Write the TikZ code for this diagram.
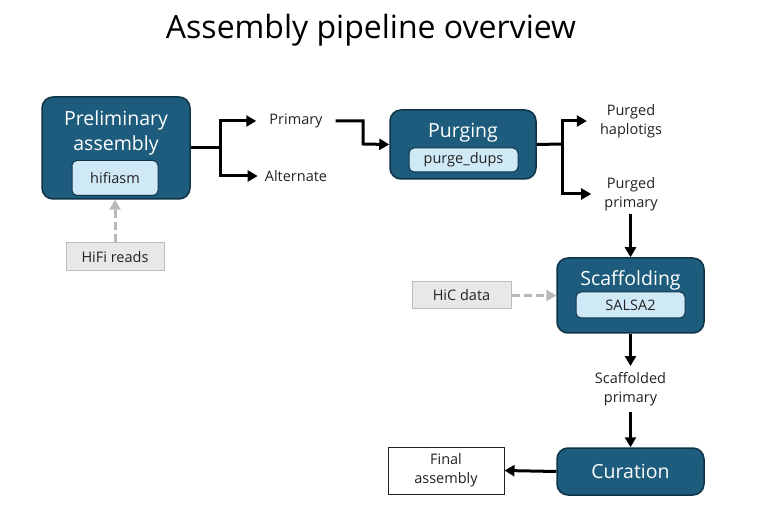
\documentclass[tikz,border=0pt]{standalone}
\usepackage{fontspec}
\setmainfont{Open Sans}
\usetikzlibrary{positioning,arrows.meta,calc}
\definecolor{stagefill}{HTML}{1D5C7C}
\definecolor{stageline}{HTML}{0F3347}
\definecolor{toolfill}{HTML}{CFE9F7}
\definecolor{inputfill}{HTML}{E8E8E8}
\definecolor{inputline}{HTML}{BDBDBD}
\definecolor{feedgray}{HTML}{B8B8B8}
\definecolor{textdark}{HTML}{222222}

\begin{document}
\begin{tikzpicture}[
  x=1pt, y=-1pt,
  >={Triangle[length=10pt,width=11pt]},
  font=\fontsize{14.5}{19}\selectfont,
  stage/.style={draw=stageline, line width=1.5pt, fill=stagefill, rounded corners=11pt, inner sep=0pt},
  stagetitle/.style={text=white, align=center, inner sep=0pt, font=\fontsize{19.5}{25}\selectfont},
  tool/.style={draw=stageline, line width=1pt, fill=toolfill, rounded corners=5pt, inner sep=0pt, text=textdark},
  inputbox/.style={draw=inputline, line width=1pt, fill=inputfill, inner sep=0pt, text=textdark},
  outtext/.style={align=center, inner sep=1pt, text=textdark},
  arrow/.style={->, line width=3pt},
  feed/.style={->, line width=3pt, draw=feedgray, dash pattern=on 8pt off 4pt}
]
\useasboundingbox (0,0) rectangle (761,505);

\node[font=\fontsize{32}{36}\selectfont] (title) at (371,30) {Assembly pipeline overview};

% preliminary assembly
\node[stage, minimum width=148pt, minimum height=102pt] (prelim) at (116,148) {};
\node[stagetitle] (prelimtitle) at (116,133) {Preliminary\\assembly};
\node[tool, minimum width=86pt, minimum height=35pt] (hifiasm) at (115,178) {hifiasm};
\node[inputbox, minimum width=98pt, minimum height=28pt] (hifi) at (115,257) {HiFi reads};
\draw[feed] (hifi.north) -- (hifi.north |- prelim.south);

\node[outtext] (primary) at (296,121) {Primary};
\node[outtext] (alternate) at (296,176) {Alternate};
\coordinate (split1) at (220,148);
\draw[line width=3pt] (prelim.east) -- (split1);
\draw[arrow, shorten >=12pt] (split1) |- (primary.west);
\draw[arrow, shorten >=6pt] (split1) |- (alternate.west);

% purging
\node[stage, minimum width=146pt, minimum height=69pt] (purging) at (463,144.5) {};
\node[stagetitle] (purgingtitle) at (463,133) {Purging};
\node[tool, minimum width=109pt, minimum height=24pt] (purgedups) at (463.5,160) {purge\_dups};
\coordinate (jog) at (363,144);
\draw[arrow, shorten <=12pt] (primary.east) -| (jog) -- (purging.west);

\node[outtext] (haplotigs) at (631,121) {Purged\\haplotigs};
\node[outtext] (purgedprim) at (631,194) {Purged\\primary};
\coordinate (split2) at (562,144);
\draw[line width=3pt] (purging.east) -- (split2);
\draw[arrow, shorten >=12pt] (split2) |- (haplotigs.west);
\draw[arrow, shorten >=12pt] (split2) |- (purgedprim.west);

% scaffolding
\node[stage, minimum width=147pt, minimum height=75pt] (scaffold) at (630.5,295.5) {};
\node[stagetitle] (scaffoldtitle) at (630.5,280) {Scaffolding};
\node[tool, minimum width=109pt, minimum height=26pt] (salsa) at (630.5,305) {SALSA2};
\node[inputbox, minimum width=99pt, minimum height=27pt] (hic) at (461.5,295.5) {HiC data};
\draw[arrow, shorten <=2pt] (purgedprim.south -| scaffold.north) -- (scaffold.north);
\draw[feed] (hic.east) -- (scaffold.west);

\node[outtext] (scaffolded) at (630.5,389) {Scaffolded\\primary};
\draw[arrow, shorten >=5pt] (scaffold.south) -- (scaffolded.north);

% curation
\node[stage, minimum width=147pt, minimum height=47pt, stagetitle] (curation) at (630.5,471.5) {Curation};
\node[draw=textdark, line width=1pt, fill=white, minimum width=116pt, minimum height=47pt, outtext] (final) at (446,470.5) {Final\\assembly};
\draw[arrow, shorten <=5pt] (scaffolded.south) -- (curation.north);
\draw[arrow] (curation.west) -- (final.east);
\end{tikzpicture}
\end{document}
